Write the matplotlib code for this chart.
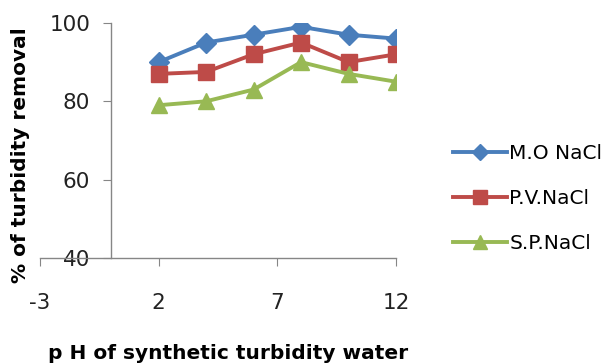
import matplotlib
matplotlib.use("Agg")
import matplotlib.pyplot as plt

ph = [2, 4, 6, 8, 10, 12]
mo_nacl = [90, 95, 97, 99, 97, 96]
pv_nacl = [87, 87.5, 92, 95, 90, 92]
sp_nacl = [79, 80, 83, 90, 87, 85]

x_ticks = [-3, 2, 7, 12]
y_ticks = [40, 60, 80, 100]

plt.rcParams["font.family"] = ["DejaVu Sans"]
plt.rcParams["axes.unicode_minus"] = False

fig = plt.figure(figsize=(6.14, 3.64), dpi=100)
ax = fig.add_axes([0.065, 0.291, 0.58, 0.646])

ax.plot(ph, mo_nacl, color="#4A7EBB", lw=2.8, marker="D", ms=10, label="M.O NaCl")
ax.plot(ph, pv_nacl, color="#BE4B48", lw=2.8, marker="s", ms=12, label="P.V.NaCl")
ax.plot(ph, sp_nacl, color="#98B954", lw=2.8, marker="^", ms=12, label="S.P.NaCl")

ax.set_xlim(-3, 12)
ax.set_ylim(40, 100)
ax.set_xticks(x_ticks)
ax.set_yticks(y_ticks)

for s in ("top", "right"):
    ax.spines[s].set_visible(False)
ax.spines["left"].set_position(("data", 0))
for s in ("left", "bottom"):
    ax.spines[s].set_color("#868686")
    ax.spines[s].set_linewidth(1.0)
ax.tick_params(axis="both", colors="#868686", length=6, labelsize=15.5,
               labelcolor="#222222", direction="out")
ax.tick_params(axis="x", pad=19)
ax.tick_params(axis="y", pad=9)

fig.text(0.033, 0.575, "% of turbidity removal", rotation=90, ha="center",
         va="center", fontsize=14.5, fontweight="bold")
fig.text(0.372, 0.03, "p H of synthetic turbidity water", ha="center",
         va="center", fontsize=14.5, fontweight="bold")

fig.legend(loc="center left", bbox_to_anchor=(0.708, 0.455), frameon=False,
           fontsize=14.5, handlelength=2.7, handletextpad=0.1,
           labelspacing=1.3, markerscale=0.85)

fig.savefig("out.png", dpi=100)
